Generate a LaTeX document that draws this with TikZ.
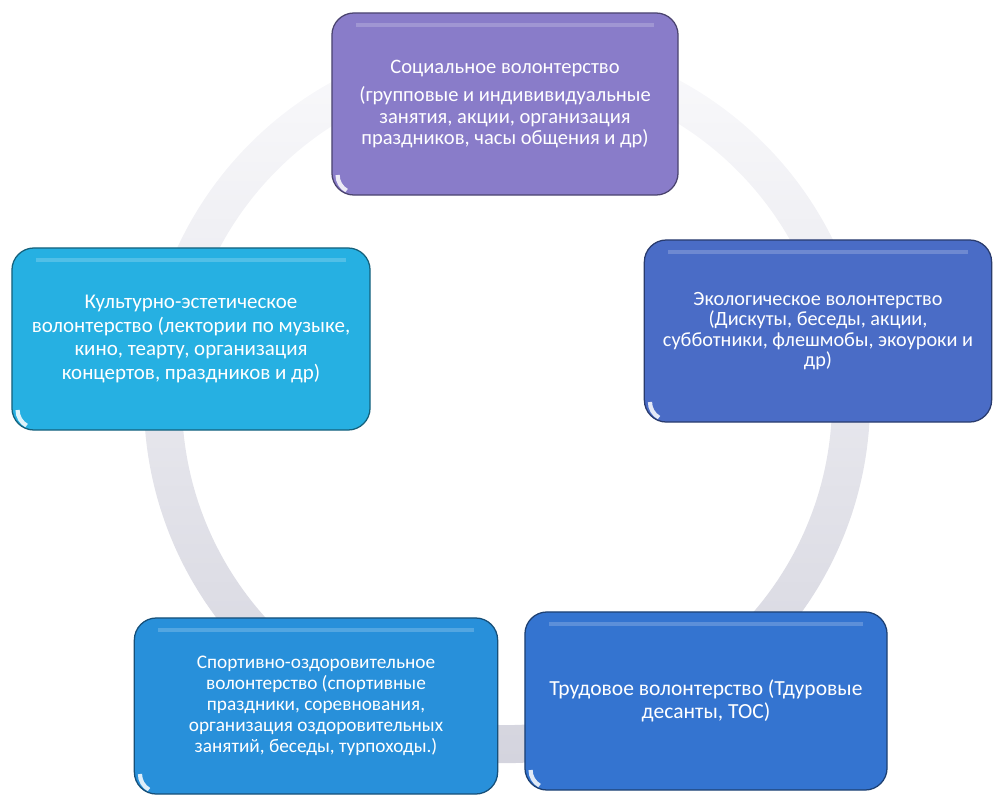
\documentclass[tikz,border=0pt]{standalone}
\usepackage{fontspec}
\setmainfont{Carlito}
\definecolor{socviolet}{RGB}{137,124,201}
\definecolor{cultcyan}{RGB}{38,176,226}
\definecolor{ecoblue}{RGB}{74,108,198}
\definecolor{sportblue}{RGB}{40,144,218}
\definecolor{trudblue}{RGB}{52,116,208}
\definecolor{ringtop}{RGB}{250,250,252}
\definecolor{ringbot}{RGB}{212,212,222}
\tikzset{
  volbox/.style={rounded corners=0.55cm, fill=#1, draw=#1!55!black, line width=0.9pt,
    text=white, align=center, font=\fontsize{14.5}{15}\selectfont, inner sep=3pt,
    path picture={
      \draw[white, opacity=.2, line width=3pt]
        ([xshift=0.6cm,yshift=-0.3cm]path picture bounding box.north west) --
        ([xshift=-0.6cm,yshift=-0.3cm]path picture bounding box.north east);
      \draw[white, opacity=.85, line width=3pt]
        ([xshift=0.14cm,yshift=0.5cm]path picture bounding box.south west)
        arc[start angle=180, end angle=240, radius=0.45cm];
    }},
}

\begin{document}
\begin{tikzpicture}[x=0.025cm, y=-0.025cm]
  \useasboundingbox (0,0) rectangle (994,796);
  \shade[top color=ringtop, bottom color=ringbot, even odd rule]
    (507,400) circle[radius=9.075cm] (507,400) circle[radius=8.125cm];
  \node[volbox=socviolet, minimum width=8.65cm, minimum height=4.55cm,
    font=\fontsize{14.6}{15}\selectfont] (soc) at (505,104)
    {Социальное волонтерство\\[5pt] (групповые и индививидуальные\\ занятия, акции, организация\\ праздников, часы общения и др)};
  \node[volbox=cultcyan, minimum width=8.95cm, minimum height=4.55cm,
    font=\fontsize{14.9}{17}\selectfont] (cult) at (191,339)
    {Культурно-эстетическое\\ волонтерство (лектории по музыке,\\ кино, теарту, организация\\ концертов, праздников и др)};
  \node[volbox=ecoblue, minimum width=8.68cm, minimum height=4.55cm,
    font=\fontsize{14.4}{14.5}\selectfont] (eco) at (818,331)
    {Экологическое волонтерство\\ (Дискуты, беседы, акции,\\ субботники, флешмобы, экоуроки и\\ др)};
  \node[volbox=sportblue, minimum width=9.08cm, minimum height=4.4cm,
    font=\fontsize{13.7}{15}\selectfont] (sport) at (316,706)
    {Спортивно-оздоровительное\\ волонтерство (спортивные\\ праздники, соревнования,\\ организация оздоровительных\\ занятий, беседы, турпоходы.)};
  \node[volbox=trudblue, minimum width=9.05cm, minimum height=4.45cm,
    font=\fontsize{15.3}{16.4}\selectfont] (trud) at (706,701)
    {Трудовое волонтерство (Тдуровые\\ десанты, ТОС)};
\end{tikzpicture}
\end{document}
